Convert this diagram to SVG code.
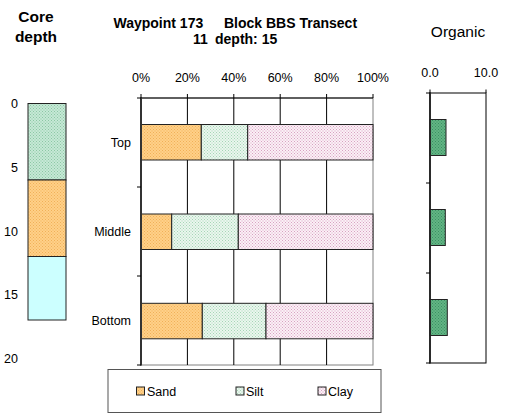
<svg xmlns="http://www.w3.org/2000/svg" width="511" height="414" viewBox="0 0 511 414">
<defs>
<pattern id="pSand" width="3" height="3" patternUnits="userSpaceOnUse"><rect width="3" height="3" fill="#FFD088"/><rect x="0" y="0" width="1" height="1" fill="#F0B058"/><rect x="1.5" y="1.5" width="1" height="1" fill="#F0B058"/></pattern>
<pattern id="pSilt" width="3" height="3" patternUnits="userSpaceOnUse"><rect width="3" height="3" fill="#EAF6EE"/><rect x="0" y="0" width="1" height="1" fill="#A6D6B6"/><rect x="1.5" y="1.5" width="1" height="1" fill="#A6D6B6"/></pattern>
<pattern id="pClay" width="3" height="3" patternUnits="userSpaceOnUse"><rect width="3" height="3" fill="#FBF0F6"/><rect x="0" y="0" width="1" height="1" fill="#D8A2C2"/><rect x="1.5" y="1.5" width="1" height="1" fill="#D8A2C2"/></pattern>
<pattern id="pCore" width="3" height="3" patternUnits="userSpaceOnUse"><rect width="3" height="3" fill="#C6E8D6"/><rect x="0" y="0" width="1" height="1" fill="#8CC8A4"/><rect x="1.5" y="1.5" width="1" height="1" fill="#8CC8A4"/></pattern>
<pattern id="pOrg" width="3" height="3" patternUnits="userSpaceOnUse"><rect width="3" height="3" fill="#62B484"/><rect x="0" y="0" width="1" height="1" fill="#3A9062"/><rect x="1.5" y="1.5" width="1" height="1" fill="#3A9062"/></pattern>
</defs>
<style>
text{font-family:"Liberation Sans",Arial,sans-serif;fill:#000}
.t{font-weight:bold;font-size:14px}
.ax{font-size:12.5px}
.bar{stroke:#222;stroke-width:1}
.grid{stroke:#000;stroke-width:1}
.tick{stroke:#000;stroke-width:1}
</style>
<rect width="511" height="414" fill="#fff"/>

<g id="core">
<text class="t" x="36" y="22" text-anchor="middle" style="font-size:15.5px">Core</text>
<text class="t" x="36" y="42" text-anchor="middle" style="font-size:15.5px">depth</text>
<g class="ax" text-anchor="end">
<text x="18" y="107.5">0</text>
<text x="18" y="171.5">5</text>
<text x="18" y="235.5">10</text>
<text x="18" y="298.5">15</text>
<text x="18" y="362.5">20</text>
</g>
<rect x="28" y="103.5" width="38" height="76.5" fill="url(#pCore)" class="bar"/>
<rect x="28" y="180" width="38" height="76.5" fill="url(#pSand)" class="bar"/>
<rect x="28" y="256.5" width="38" height="63.5" fill="#CCFFFF" class="bar"/>
</g>

<g id="title">
<text class="t" x="113.5" y="27.5">Waypoint 173</text>
<text class="t" x="224" y="27.5">Block BBS Transect</text>
<text class="t" x="193" y="44">11</text>
<text class="t" x="215" y="44">depth: 15</text>
</g>

<g id="texture-chart">
<g class="ax" text-anchor="middle">
<text x="141" y="82">0%</text>
<text x="187.4" y="82">20%</text>
<text x="233.8" y="82">40%</text>
<text x="280.2" y="82">60%</text>
<text x="326.6" y="82">80%</text>
<text x="373" y="82">100%</text>
</g>
<g class="ax" text-anchor="end">
<text x="131" y="147">Top</text>
<text x="131" y="236">Middle</text>
<text x="131" y="325">Bottom</text>
</g>
<rect x="141" y="98" width="232" height="267" fill="none" stroke="#808080" stroke-width="1"/>
<g class="grid">
<line x1="187.4" y1="98" x2="187.4" y2="365"/>
<line x1="233.8" y1="98" x2="233.8" y2="365"/>
<line x1="280.2" y1="98" x2="280.2" y2="365"/>
<line x1="326.6" y1="98" x2="326.6" y2="365"/>
</g>
<g id="bar-top">
<rect x="141" y="124.5" width="60.3" height="35.5" fill="url(#pSand)" class="bar"/>
<rect x="201.3" y="124.5" width="46.4" height="35.5" fill="url(#pSilt)" class="bar"/>
<rect x="247.7" y="124.5" width="125.3" height="35.5" fill="url(#pClay)" class="bar"/>
</g>
<g id="bar-middle">
<rect x="141" y="214" width="30.7" height="35.5" fill="url(#pSand)" class="bar"/>
<rect x="171.7" y="214" width="66.6" height="35.5" fill="url(#pSilt)" class="bar"/>
<rect x="238.3" y="214" width="134.7" height="35.5" fill="url(#pClay)" class="bar"/>
</g>
<g id="bar-bottom">
<rect x="141" y="303.3" width="61.3" height="35.5" fill="url(#pSand)" class="bar"/>
<rect x="202.3" y="303.3" width="63.7" height="35.5" fill="url(#pSilt)" class="bar"/>
<rect x="266" y="303.3" width="107" height="35.5" fill="url(#pClay)" class="bar"/>
</g>
<line x1="141" y1="98" x2="373" y2="98" stroke="#000" stroke-width="1.2"/>
<line x1="141" y1="97.5" x2="141" y2="365.5" stroke="#333" stroke-width="2"/>
<g class="tick">
<line x1="141" y1="94" x2="141" y2="98"/>
<line x1="187.4" y1="94" x2="187.4" y2="98"/>
<line x1="233.8" y1="94" x2="233.8" y2="98"/>
<line x1="280.2" y1="94" x2="280.2" y2="98"/>
<line x1="326.6" y1="94" x2="326.6" y2="98"/>
<line x1="373" y1="94" x2="373" y2="98"/>
<line x1="137" y1="98" x2="141" y2="98"/>
<line x1="137" y1="187" x2="141" y2="187"/>
<line x1="137" y1="276" x2="141" y2="276"/>
<line x1="137" y1="365" x2="141" y2="365"/>
</g>
</g>

<g id="legend">
<rect x="108" y="369.5" width="273" height="43" fill="#fff" stroke="#555" stroke-width="1"/>
<rect x="136.5" y="387" width="8" height="8" fill="url(#pSand)" stroke="#222"/>
<text class="ax" x="147" y="396">Sand</text>
<rect x="236" y="387" width="8" height="8" fill="url(#pSilt)" stroke="#222"/>
<text class="ax" x="246" y="396">Silt</text>
<rect x="318" y="387" width="8" height="8" fill="url(#pClay)" stroke="#222"/>
<text class="ax" x="328" y="396">Clay</text>
</g>

<g id="organic">
<text x="458" y="37" text-anchor="middle" style="font-size:15.5px">Organic</text>
<g class="ax" text-anchor="middle">
<text x="430" y="77">0.0</text>
<text x="486" y="77">10.0</text>
</g>
<rect x="430" y="93" width="56" height="270" fill="none" stroke="#000" stroke-width="1"/>
<rect x="430" y="119.5" width="16" height="36" fill="url(#pOrg)" class="bar"/>
<rect x="430" y="209.5" width="15.3" height="36" fill="url(#pOrg)" class="bar"/>
<rect x="430" y="299.5" width="17.3" height="36" fill="url(#pOrg)" class="bar"/>
<line x1="430" y1="92.5" x2="430" y2="363.5" stroke="#222" stroke-width="1.8"/>
<g class="tick">
<line x1="426" y1="93" x2="430" y2="93"/>
<line x1="426" y1="183" x2="430" y2="183"/>
<line x1="426" y1="273" x2="430" y2="273"/>
<line x1="426" y1="363" x2="430" y2="363"/>
<line x1="430" y1="89.5" x2="430" y2="93"/>
<line x1="486" y1="89.5" x2="486" y2="93"/>
</g>
</g>
</svg>
